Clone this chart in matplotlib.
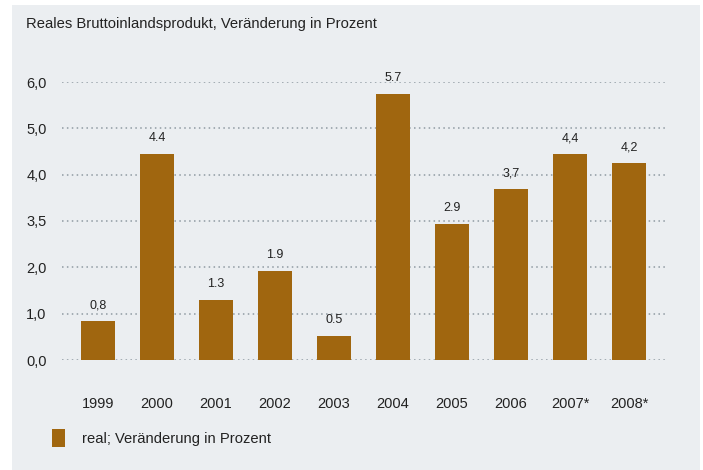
import matplotlib.pyplot as plt
from matplotlib.patches import Rectangle

plt.rcParams['font.family'] = ['Liberation Sans', 'DejaVu Sans']

years = ['1999', '2000', '2001', '2002', '2003', '2004', '2005', '2006', '2007*', '2008*']
values = [0.84, 4.45, 1.3, 1.92, 0.52, 5.74, 2.94, 3.69, 4.45, 4.25]
value_labels = ['0,8', '4.4', '1.3', '1.9', '0.5', '5.7', '2.9', '3,7', '4,4', '4,2']
y_ticks = [0, 1, 2, 3, 4, 5, 6]
y_tick_labels = ['0,0', '1,0', '2,0', '3,5', '4,0', '5,0', '6,0']

W, H = 703, 470
bar_color = '#a0660f'
text_color = '#222222'

fig = plt.figure(figsize=(W / 100, H / 100), dpi=100, facecolor='white')
# light panel behind everything
fig.patches.append(Rectangle((12 / W, 0), 688 / W, 465 / H, transform=fig.transFigure,
                             facecolor='#ebeef1', edgecolor='none', zorder=-5))

ax = fig.add_axes([62 / W, 1 - 360 / H, 606 / W, 278 / H])
ax.set_facecolor('none')
ax.set_zorder(2)

x = list(range(len(years)))
ax.bar(x, values, width=0.576, color=bar_color, zorder=3)
for xi, v, lab in zip(x, values, value_labels):
    ax.annotate(lab, (xi, v), xytext=(0, 7), textcoords='offset points',
                ha='center', va='bottom', fontsize=9, color=text_color)

ax.set_xlim((62 - 98) / 59, (668 - 98) / 59)
ax.set_ylim(0, 6)
ax.set_yticks(y_ticks)
ax.set_yticklabels(y_tick_labels)
ax.set_xticks(x)
ax.set_xticklabels(years)
ax.tick_params(axis='y', length=0, pad=11, labelsize=10.5, labelcolor=text_color)
ax.tick_params(axis='x', length=0, pad=27, labelsize=10.5, labelcolor=text_color)
ax.grid(axis='y', linestyle=(0, (1, 2.2)), color='#8f9aa2', linewidth=1.1, zorder=1)
ax.set_axisbelow(True)
for s in ax.spines.values():
    s.set_visible(False)

fig.text(26 / W, 1 - 24 / H, 'Reales Bruttoinlandsprodukt, Veränderung in Prozent',
         fontsize=10.6, color=text_color, va='center', ha='left')

fig.patches.append(Rectangle((52 / W, 1 - 447 / H), 13 / W, 18 / H, transform=fig.transFigure,
                             facecolor=bar_color, edgecolor='none', zorder=2))
fig.text(82 / W, 1 - 439 / H, 'real; Veränderung in Prozent',
         fontsize=10.6, color=text_color, va='center', ha='left')

fig.savefig('out.png', dpi=100, facecolor='white')
